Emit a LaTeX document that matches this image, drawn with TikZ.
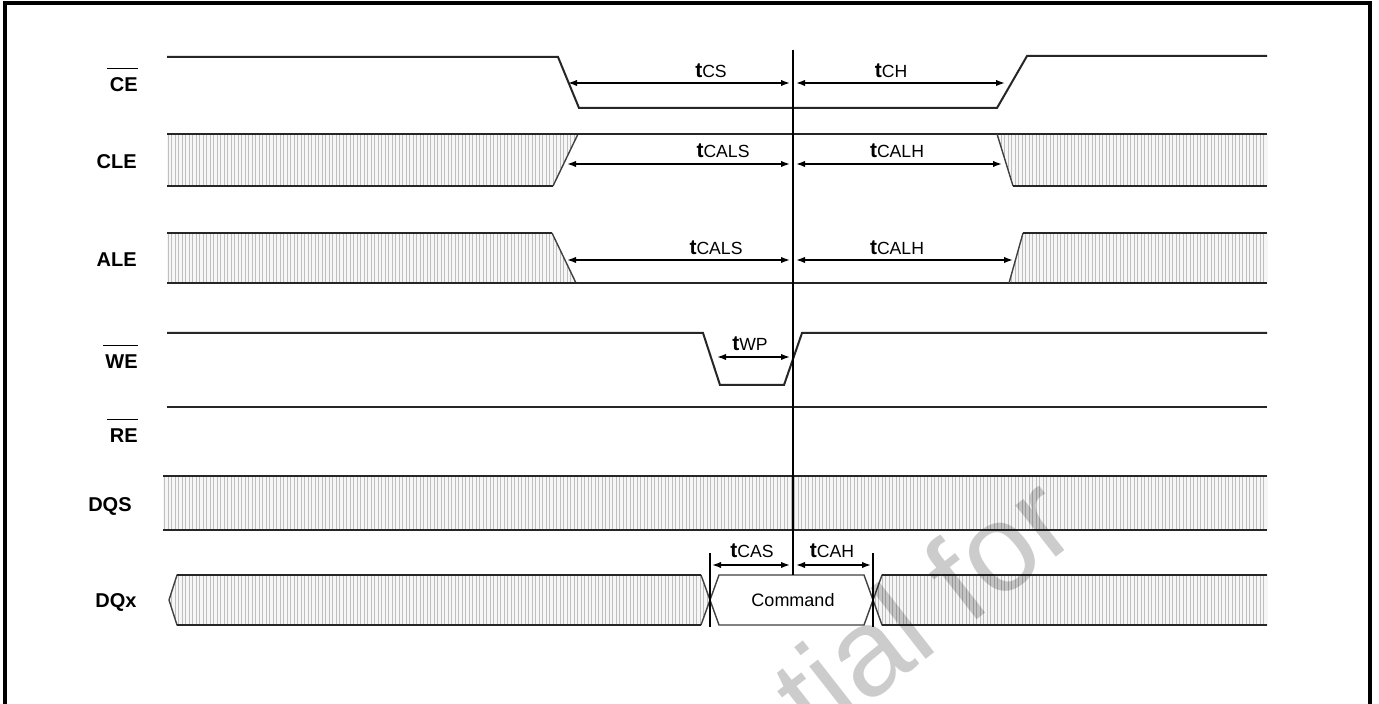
\documentclass[tikz,border=0pt]{standalone}
\usepackage{fontspec}
\setmainfont{Liberation Sans}
\usetikzlibrary{arrows.meta,patterns.meta}
\newcommand{\tlbl}[1]{\textbf{\fontsize{10.5}{12}\selectfont t}{\fontsize{8.8}{10}\selectfont #1}}
\begin{document}
\begin{tikzpicture}[x=0.5pt,y=-0.5pt,
  sig/.style={line width=1pt,black!85,line join=miter},
  hatchfill/.style={preaction={fill=gray!7},pattern={Lines[angle=90,distance=1.75pt,line width=0.5pt]},pattern color=gray!50},
  edge/.style={line width=0.7pt,black!75},
  dim/.style={line width=0.8pt,{Latex[length=4.5pt,width=3.2pt]}-{Latex[length=4.5pt,width=3.2pt]}},
  ref/.style={line width=0.8pt,black},
  lbl/.style={font=\bfseries\fontsize{10}{12}\selectfont,anchor=east,inner sep=0pt},
  bar/.style={line width=0.75pt},
  tlab/.style={inner sep=0pt},
  wm/.style={font=\fontsize{62}{74}\selectfont,text=black,opacity=0.2,rotate=38,anchor=center,inner sep=0pt}]
\useasboundingbox (0,0) rectangle (1379,704);
\clip (0,0) rectangle (1379,704);
\fill[white] (0,0) rectangle (1379,704);
% frame
\draw[line width=2pt] (4.5,760) -- (4.5,3.5) -- (1370,3.5) -- (1370,760);

% labels
\node[lbl] (lce) at (138,85) {CE};
\draw[bar] ([xshift=-1pt,yshift=4.5pt]lce.north west) -- ([yshift=4.5pt]lce.north east);
\node[lbl] (lcle) at (137,162) {CLE};
\node[lbl] (lale) at (137,260) {ALE};
\node[lbl] (lwe) at (138,362) {WE};
\draw[bar] ([xshift=-1pt,yshift=4.5pt]lwe.north west) -- ([yshift=4.5pt]lwe.north east);
\node[lbl] (lre) at (138,436) {RE};
\draw[bar] ([xshift=-1pt,yshift=4.5pt]lre.north west) -- ([yshift=4.5pt]lre.north east);
\node[lbl] (ldqs) at (132,506) {DQS};
\node[lbl] (ldqx) at (137,602) {DQx};

% CE
\draw[sig] (167,57) -- (558,57) -- (579,108) -- (997,108) -- (1027,56) -- (1267,56);

% CLE
\fill[hatchfill] (167,134) -- (578,134) -- (553,186) -- (167,186) -- cycle;
\fill[hatchfill] (997,134) -- (1267,134) -- (1267,186) -- (1013,186) -- cycle;
\draw[sig] (167,186) -- (553,186);
\draw[edge] (553,186) -- (578,134);
\draw[sig] (167,134) -- (1267,134);
\draw[edge] (997,134) -- (1013,186);
\draw[sig] (1013,186) -- (1267,186);

% ALE
\fill[hatchfill] (167,233) -- (552,233) -- (576,283) -- (167,283) -- cycle;
\fill[hatchfill] (1023,233) -- (1267,233) -- (1267,283) -- (1009,283) -- cycle;
\draw[sig] (167,233) -- (552,233);
\draw[edge] (552,233) -- (576,283);
\draw[sig] (167,283) -- (1267,283);
\draw[edge] (1009,283) -- (1023,233);
\draw[sig] (1023,233) -- (1267,233);

% WE
\draw[sig] (167,333) -- (703,333) -- (720,385) -- (784,385) -- (802,333) -- (1267,333);

% RE
\draw[sig] (167,407) -- (1267,407);

% DQS
\fill[hatchfill] (163,476) rectangle (1267,530);
\draw[sig] (163,476) -- (1267,476);
\draw[sig] (163,530) -- (1267,530);

% DQx
\fill[hatchfill] (169,600) -- (177,575) -- (701,575) -- (710,600) -- (701,625) -- (177,625) -- cycle;
\draw[edge] (701,575) -- (177,575) -- (169,600) -- (177,625) -- (701,625);
\draw[edge] (701,575) -- (710,600) -- (701,625);
\draw[edge] (710,600) -- (719,575) -- (864,575) -- (873,600) -- (864,625) -- (719,625) -- cycle;
\node[font=\fontsize{9}{11}\selectfont,inner sep=0pt] (cmdt) at (793,600) {Command};
\fill[hatchfill] (873,600) -- (882,575) -- (1267,575) -- (1267,625) -- (882,625) -- cycle;
\draw[edge] (1267,575) -- (882,575) -- (873,600) -- (882,625) -- (1267,625);
\draw[sig] (882,575) -- (1267,575);
\draw[sig] (882,625) -- (1267,625);
\draw[sig] (177,575) -- (701,575);
\draw[sig] (177,625) -- (701,625);

% reference lines
\coordinate (rtop) at (793,50);
\coordinate (rbot) at (793,575);
\draw[ref] (rtop) -- (rbot);
\coordinate (vl1) at (710,553);
\coordinate (vl2) at (710,627);
\coordinate (vr1) at (873,553);
\coordinate (vr2) at (873,627);
\draw[ref] (vl1) -- (vl2);
\draw[ref] (vr1) -- (vr2);

% dimension arrows
\coordinate (a1) at (568,83); \coordinate (a2) at (790,83);
\coordinate (a3) at (796,83); \coordinate (a4) at (1005,83);
\draw[dim] (a1) -- (a2);
\draw[dim] (a3) -- (a4);
\node[tlab] (tcs) at (711,71) {\tlbl{CS}};
\node[tlab] (tch) at (891,71) {\tlbl{CH}};

\coordinate (b1) at (567,164); \coordinate (b2) at (790,164);
\coordinate (b3) at (796,164); \coordinate (b4) at (1002,164);
\draw[dim] (b1) -- (b2);
\draw[dim] (b3) -- (b4);
\node[tlab] (tcals1) at (723,151) {\tlbl{CALS}};
\node[tlab] (tcalh1) at (897,151) {\tlbl{CALH}};

\coordinate (c1) at (567,260); \coordinate (c2) at (790,260);
\coordinate (c3) at (796,260); \coordinate (c4) at (1013,260);
\draw[dim] (c1) -- (c2);
\draw[dim] (c3) -- (c4);
\node[tlab] (tcals2) at (716,248) {\tlbl{CALS}};
\node[tlab] (tcalh2) at (897,248) {\tlbl{CALH}};

\coordinate (d1) at (717,357); \coordinate (d2) at (790,357);
\draw[dim] (d1) -- (d2);
\node[tlab] (twp) at (750,344) {\tlbl{WP}};

\coordinate (e1) at (712,565); \coordinate (e2) at (790,565);
\coordinate (e3) at (796,565); \coordinate (e4) at (871,565);
\draw[dim] (e1) -- (e2);
\draw[dim] (e3) -- (e4);
\node[tlab] (tcas) at (752,551) {\tlbl{CAS}};
\node[tlab] (tcah) at (832,551) {\tlbl{CAH}};

% watermark
\node[wm] (wmk) at (922,606) {tial for};
\end{tikzpicture}
\end{document}
